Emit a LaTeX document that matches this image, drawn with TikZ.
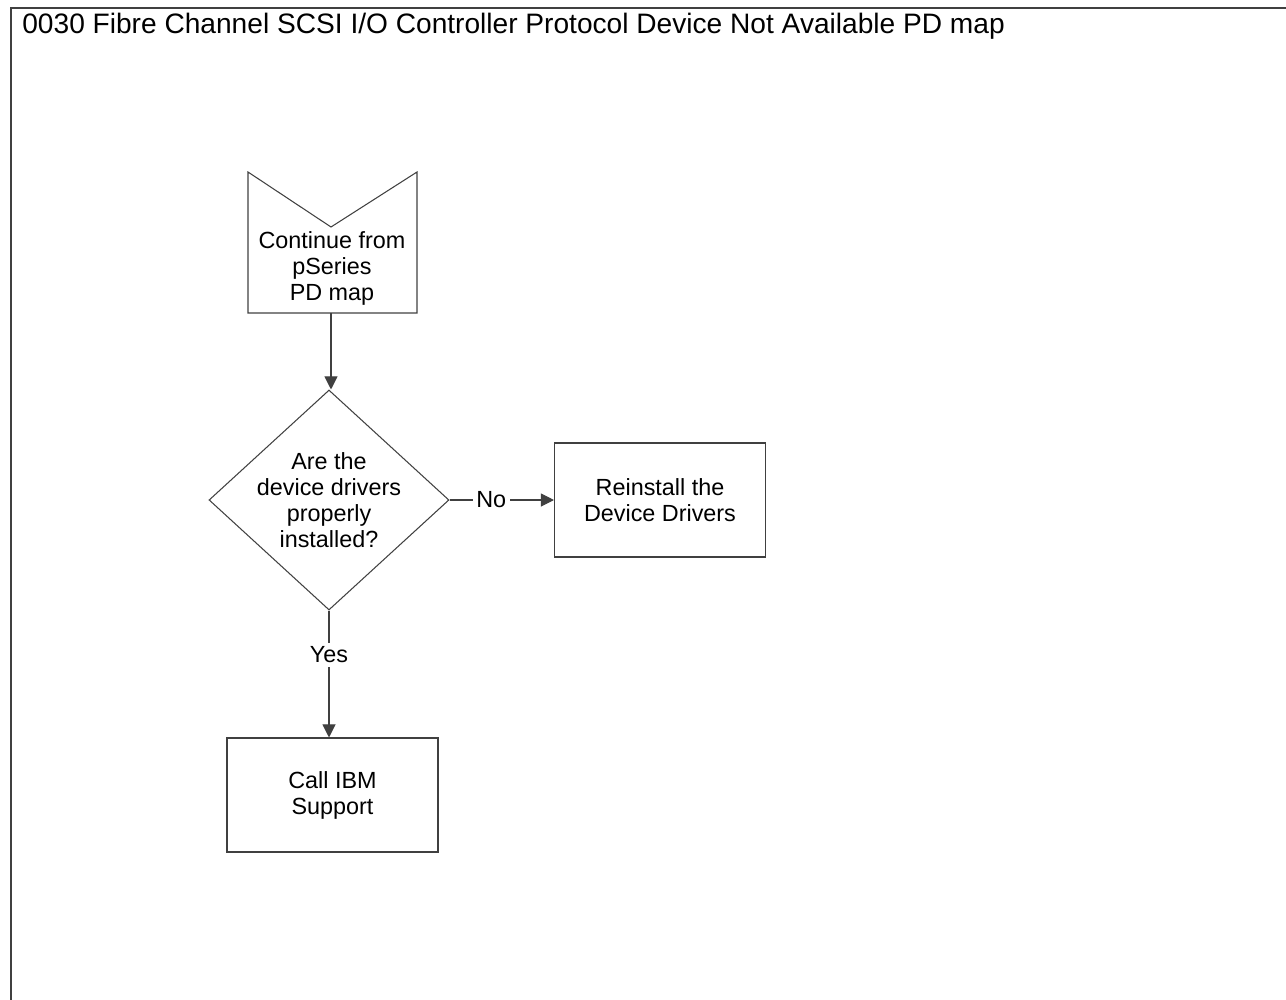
\documentclass[tikz,border=0pt]{standalone}
\usepackage{fontspec}
\setmainfont{Liberation Sans}
\usetikzlibrary{arrows.meta,shapes.geometric}

\tikzset{
  linea/.style={draw=black!75, line width=0.6pt},
  caja/.style={linea, rectangle, minimum width=42.2mm, minimum height=22.8mm, align=center, inner sep=0pt},
  rombo/.style={linea, diamond, aspect=1.09, minimum width=48mm, minimum height=44mm, align=center, inner sep=-2.3pt},
  flecha/.style={linea, -{Triangle[length=7.5pt,width=7.5pt]}},
  etiq/.style={fill=white, inner sep=2pt}
}

\begin{document}
\begin{tikzpicture}[x=0.2mm, y=-0.2mm, font=\fontsize{13.3}{14.8}\selectfont]
  \useasboundingbox (0,0) rectangle (1286,1000);
  % marco
  \draw[linea] (11,1000) -- (11,8) -- (1286,8);
  \node[anchor=base west, inner sep=0pt, font=\fontsize{16}{18}\selectfont] (titulo) at (22,33)
    {0030 Fibre Channel SCSI I/O Controller Protocol Device Not Available PD map};
  % conector de inicio
  \draw[linea] (248,172) -- (331,227) -- (417,172) -- (417,313) -- (248,313) -- cycle;
  \coordinate (inicio) at (331,313);
  \node[align=center] (texto) at (332,268) {Continue from\\pSeries\\PD map};
  % decision y cajas
  \node[rombo] (drivers) at (329,500) {Are the\\device drivers\\properly\\installed?};
  \node[caja] (reinstalar) at (660,500) {Reinstall the\\Device Drivers};
  \node[caja] (llamar) at (332.5,795) {Call IBM\\Support};
  % conectores
  \draw[flecha] (inicio) -- (inicio |- drivers.north);
  \draw[flecha] (drivers.east) -- node[etiq, pos=0.4] (no) {No} (reinstalar.west);
  \draw[flecha] (drivers.south) -- node[etiq, pos=0.35] (si) {Yes} (drivers.south |- llamar.north);
\end{tikzpicture}
\end{document}
